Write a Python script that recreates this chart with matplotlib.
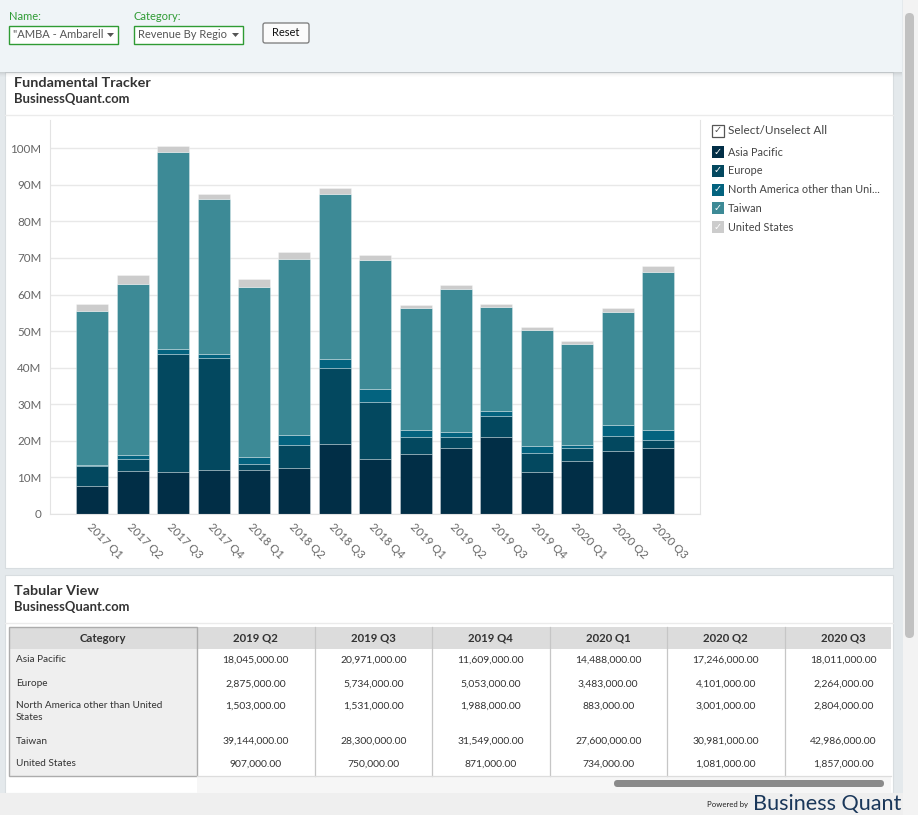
import numpy as np
import matplotlib
matplotlib.use("Agg")
import matplotlib.pyplot as plt
from matplotlib.patches import Rectangle, FancyBboxPatch, Polygon
from matplotlib.ticker import FuncFormatter

plt.rcParams['font.family'] = ['Lato', 'DejaVu Sans']

# ---------- data (revenue in millions USD) ----------
quarters = ['2017 Q1', '2017 Q2', '2017 Q3', '2017 Q4', '2018 Q1', '2018 Q2', '2018 Q3',
            '2018 Q4', '2019 Q1', '2019 Q2', '2019 Q3', '2019 Q4', '2020 Q1', '2020 Q2', '2020 Q3']
asia_pacific = [7.6, 11.7, 11.4, 12.1, 11.9, 12.5, 19.1, 15.0, 16.5,
                18.045, 20.971, 11.609, 14.488, 17.246, 18.011]
europe = [5.4, 3.2, 32.3, 30.6, 1.8, 6.3, 20.9, 15.7, 4.5,
          2.875, 5.734, 5.053, 3.483, 4.101, 2.264]
north_america = [0.4, 1.1, 1.3, 1.1, 1.9, 2.9, 2.5, 3.6, 2.0,
                 1.503, 1.531, 1.988, 0.883, 3.001, 2.804]
taiwan = [42.0, 46.9, 53.9, 42.3, 46.5, 48.1, 45.1, 35.1, 33.2,
          39.144, 28.3, 31.549, 27.6, 30.981, 42.986]
united_states = [1.9, 2.4, 1.7, 1.5, 2.1, 1.9, 1.6, 1.3, 1.0,
                 0.907, 0.75, 0.871, 0.734, 1.081, 1.857]

series_names = ['Asia Pacific', 'Europe', 'North America other than United States',
                'Taiwan', 'United States']
series_values = [asia_pacific, europe, north_america, taiwan, united_states]
series_colors = ['#012e46', '#03485f', '#03637f', '#3d8a96', '#cccccc']

table_quarters = quarters[-6:]

# ---------- figure & background layer (pixel coordinates) ----------
W, H = 918, 815
fig = plt.figure(figsize=(W / 100, H / 100), dpi=100)
fig.patch.set_facecolor('#e4e9ec')

bg = fig.add_axes([0, 0, 1, 1], zorder=0)
bg.set_xlim(0, W)
bg.set_ylim(H, 0)
bg.axis('off')

# panels
bg.add_patch(Rectangle((5, 72), 888, 496, fc='white', ec='#d8dde0', lw=0.8))
bg.add_patch(Rectangle((5, 575), 888, 218, fc='white', ec='#d8dde0', lw=0.8))
bg.add_patch(Rectangle((0, 793), 903, 22, fc='#efefef', ec='none'))

# top filter bar + soft shadow
for i, a in enumerate([0.10, 0.07, 0.045, 0.025, 0.012]):
    bg.add_patch(Rectangle((0, 72 + i), 902, 1, fc='black', alpha=a, ec='none'))
bg.add_patch(Rectangle((0, 0), 902, 72, fc='#eff4f7', ec='none'))

# right scrollbar
bg.add_patch(Rectangle((903, 0), 15, H, fc='#f3f3f3', ec='none'))
bg.add_patch(FancyBboxPatch((905, 13), 9, 625, boxstyle='round,pad=0,rounding_size=4.5',
                            fc='#c1c1c1', ec='none'))

# filter controls
green = '#2f9b34'
bg.text(9, 16, 'Name:', color=green, fontsize=8, va='center')
bg.add_patch(Rectangle((9, 26), 109, 18, fc='white', ec=green, lw=1))
bg.text(13, 35, '"AMBA - Ambarell', color='#555555', fontsize=8, va='center')
bg.add_patch(Polygon([(107, 33), (114, 33), (110.5, 37)], fc='#555555', ec='none'))
bg.text(134, 16, 'Category:', color=green, fontsize=8, va='center')
bg.add_patch(Rectangle((134, 26), 109, 18, fc='white', ec=green, lw=1))
bg.text(138, 35, 'Revenue By Regio', color='#555555', fontsize=8, va='center')
bg.add_patch(Polygon([(232, 33), (239, 33), (235.5, 37)], fc='#555555', ec='none'))
bg.add_patch(FancyBboxPatch((263, 23), 46, 20, boxstyle='round,pad=0,rounding_size=2',
                            fc='#fbfbfb', ec='#777777', lw=0.9))
bg.text(286, 33, 'Reset', color='#111111', fontsize=8, ha='center', va='center')

# chart panel titles
bg.text(14, 83, 'Fundamental Tracker', fontsize=10.4, fontweight='bold', color='#333333', va='center')
bg.text(14, 99, 'BusinessQuant.com', fontsize=9.4, fontweight='bold', color='#333333', va='center')
bg.plot([5, 893], [115, 115], color='#ebebeb', lw=1)

# legend
ly = 131
bg.add_patch(Rectangle((712, ly - 6), 12, 12, fc='white', ec='#555555', lw=0.9))
bg.text(718, ly, '\u2713', color='#555555', fontsize=7, ha='center', va='center')
bg.text(728, ly, 'Select/Unselect All', color='#444444', fontsize=8.5, va='center')
for i, (name, col) in enumerate(zip(series_names, series_colors)):
    y = 152 + i * 18.8
    bg.add_patch(Rectangle((712, y - 6), 12, 12, fc=col, ec='none'))
    bg.text(718, y, '\u2713', color='white', fontsize=7, ha='center', va='center')
    label = name if len(name) <= 28 else name[:28] + '...'
    bg.text(728, y, label, color='#444444', fontsize=7.8, va='center')

# ---------- stacked bar chart ----------
ax = fig.add_axes([50 / W, 1 - 514 / H, 650 / W, (514 - 120) / H], zorder=1)
ax.set_facecolor('white')
x = np.arange(len(quarters))
bottom = np.zeros(len(quarters))
for vals, col in zip(series_values, series_colors):
    v = np.array(vals) * 1e6
    ax.bar(x, v, bottom=bottom, width=0.79, color=col,
           edgecolor=(1, 1, 1, 0.3), linewidth=0.7)
    bottom += v

ax.set_xlim(-1.05, 15.04)
ax.set_ylim(0, 107.7e6)
ax.set_yticks(np.arange(0, 101e6, 10e6))
ax.yaxis.set_major_formatter(FuncFormatter(lambda v, p: '0' if v == 0 else f'{v / 1e6:.0f}M'))
ax.yaxis.grid(True, color='#e8e8e8', lw=1)
ax.set_axisbelow(True)
ax.tick_params(axis='y', length=0, pad=6, labelsize=8.4, labelcolor='#666666')
ax.set_xticks(x)
ax.set_xticklabels(quarters, rotation=-45, ha='left', va='top', rotation_mode='anchor',
                   fontsize=8.2, color='#666666')
ax.tick_params(axis='x', length=0, pad=5)
for s in ['left', 'right', 'bottom']:
    ax.spines[s].set_color('#e3e3e3')
ax.spines['top'].set_visible(False)

# ---------- tabular view ----------
bg.text(14, 591, 'Tabular View', fontsize=10.4, fontweight='bold', color='#333333', va='center')
bg.text(14, 607, 'BusinessQuant.com', fontsize=9.4, fontweight='bold', color='#333333', va='center')
bg.plot([5, 893], [623, 623], color='#ebebeb', lw=1)

t_top, h_bot, t_bot = 627, 649, 776
cat_l, cat_r, col_w, t_right = 9, 197, 117.5, 891
bg.add_patch(Rectangle((cat_l, t_top), t_right - cat_l, h_bot - t_top, fc='#dcdcdc', ec='none'))
bg.add_patch(Rectangle((cat_l, h_bot), cat_r - cat_l, t_bot - h_bot, fc='#efefef', ec='none'))
for k in range(1, len(table_quarters)):
    xl = cat_r + k * col_w
    bg.plot([xl, xl], [t_top, t_bot], color='#c6c6c6', lw=0.9)
bg.plot([cat_r, t_right], [t_bot, t_bot], color='#dddddd', lw=0.9)
bg.add_patch(Rectangle((cat_l, t_top), cat_r - cat_l, t_bot - t_top, fc='none', ec='#acacac', lw=1))

bg.text((cat_l + cat_r) / 2, 638, 'Category', fontsize=8.2, fontweight='bold',
        color='#333333', ha='center', va='center')
for k, q in enumerate(table_quarters):
    bg.text(cat_r + (k + 0.5) * col_w, 638, q, fontsize=8.2, fontweight='bold',
            color='#333333', ha='center', va='center')

row_y = [660, 684, 706, 741, 764]
row_labels = ['Asia Pacific', 'Europe', 'North America other than United\nStates',
              'Taiwan', 'United States']
for name, label, vals, ry in zip(series_names, row_labels, series_values, row_y):
    bg.text(16, ry - 4.5, label, fontsize=7.2, color='#333333', va='top', linespacing=1.3)
    for k, v in enumerate(vals[-6:]):
        bg.text(cat_r + (k + 0.5) * col_w, ry, f'{v * 1e6:,.2f}', fontsize=7.5,
                color='#333333', ha='center', va='center')

# horizontal scrollbar under the table
bg.add_patch(Rectangle((cat_r, 777), t_right - cat_r, 16, fc='#f6f6f6', ec='none'))
bg.add_patch(FancyBboxPatch((614, 780), 270, 7, boxstyle='round,pad=0,rounding_size=3.5',
                            fc='#8a8a8a', ec='none'))

# footer
bg.text(748, 804, 'Powered by', fontsize=5.6, color='#222222', ha='right', va='center')
bg.text(753, 804, 'Business Quant', fontsize=15.6, color='#1a375a', ha='left', va='center')

fig.savefig('out.png', dpi=100)
